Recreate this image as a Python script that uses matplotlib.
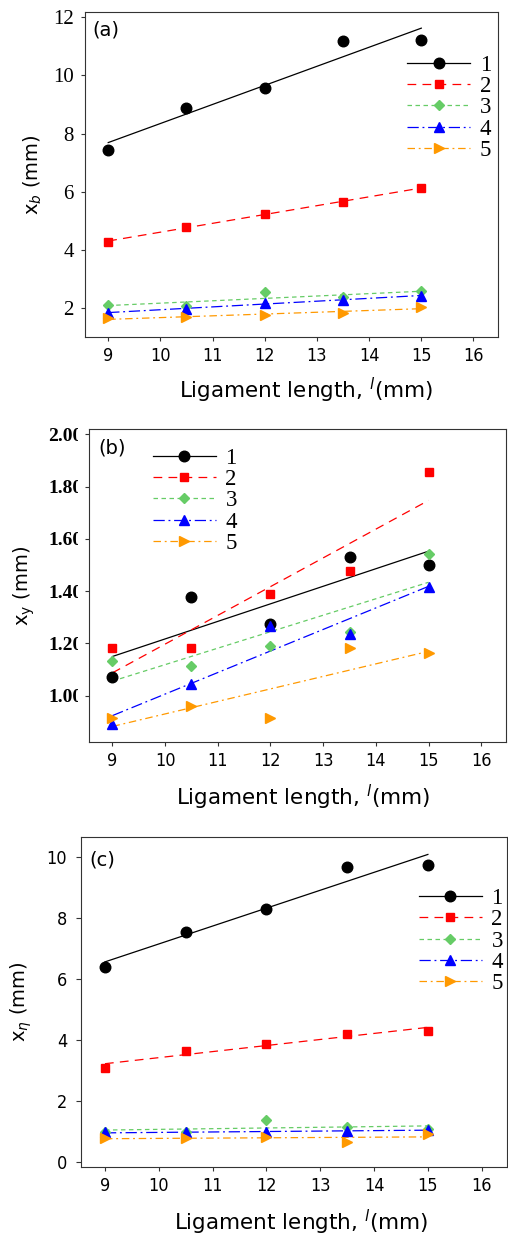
import numpy as np
import matplotlib
matplotlib.use('Agg')
import matplotlib.pyplot as plt
from matplotlib.lines import Line2D
from matplotlib.patches import Rectangle

plt.rcParams['mathtext.fontset'] = 'dejavusans'
plt.rcParams['font.family'] = ['DejaVu Sans']

W, H, DPI = 508, 1235, 100

# ---------------- data ----------------
ligament = [9, 10.5, 12, 13.5, 15]
series_labels = ['1', '2', '3', '4', '5']

xb_1 = [7.44, 8.89, 9.56, 11.17, 11.22]
xb_2 = [4.27, 4.79, 5.24, 5.65, 6.12]
xb_3 = [2.11, 2.05, 2.55, 2.36, 2.57]
xb_4 = [1.83, 1.98, 2.17, 2.27, 2.42]
xb_5 = [1.64, 1.69, 1.76, 1.83, 2.03]

xy_1 = [1.073, 1.379, 1.273, 1.532, 1.500]
xy_2 = [1.181, 1.181, 1.389, 1.478, 1.857]
xy_3 = [1.134, 1.114, 1.190, 1.245, 1.541]
xy_4 = [0.892, 1.045, 1.268, 1.235, 1.415]
xy_5 = [0.913, 0.961, 0.913, 1.181, 1.162]

xn_1 = [6.39, 7.52, 8.29, 9.65, 9.73]
xn_2 = [3.08, 3.64, 3.85, 4.18, 4.30]
xn_3 = [0.98, 0.97, 1.37, 1.15, 1.06]
xn_4 = [0.96, 0.96, 0.97, 1.02, 1.04]
xn_5 = [0.77, 0.77, 0.82, 0.66, 0.90]

x_ticks = [9, 10, 11, 12, 13, 14, 15, 16]
yticks_a = [2, 4, 6, 8, 10, 12]
yticks_b = [1.0, 1.2, 1.4, 1.6, 1.8, 2.0]
ytick_labels_b = ['1.00', '1.20', '1.40', '1.60', '1.80', '2.00']
yticks_c = [0, 2, 4, 6, 8, 10]

styles = [
    dict(color='black', ls='-', marker='o', ms=7.6),
    dict(color='#ff0000', ls=(0, (7, 5)), marker='s', ms=5.9),
    dict(color='#66cc66', ls=(0, (3.6, 2.8)), marker='D', ms=5.3),
    dict(color='#0000ff', ls=(0, (9, 3, 1.5, 3)), marker='^', ms=7.2),
    dict(color='#ff9900', ls=(0, (6, 3, 1.5, 3)), marker='>', ms=7.2),
]
LW = 0.9

fig = plt.figure(figsize=(W / DPI, H / DPI), dpi=DPI)


def px_axes(left, right, top, bottom):
    return fig.add_axes([left / W, (H - bottom) / H, (right - left) / W, (bottom - top) / H])


ax_a = px_axes(85, 498, 12, 337)
ax_b = px_axes(89, 506, 429.3, 741.7)
ax_c = px_axes(81, 507, 837.3, 1166.7)


def draw_panel(ax, data):
    x = np.array(ligament)
    for st, y in zip(styles, data):
        coef = np.polyfit(x, np.array(y), 1)
        ax.plot(x, np.polyval(coef, x), color=st['color'], ls=st['ls'], lw=LW, zorder=2)
    for st, y in zip(styles, data):
        ax.plot(x, y, ls='none', marker=st['marker'], ms=st['ms'], color=st['color'],
                mec=st['color'], zorder=3)


def legend(ax, anchor, fs=16.5):
    handles = [Line2D([], [], color=st['color'], ls=st['ls'], lw=LW, marker=st['marker'],
                      ms=st['ms']) for st in styles]
    leg = ax.legend(handles, series_labels, loc='upper left', bbox_to_anchor=anchor,
                    frameon=False, borderpad=0, borderaxespad=0, handlelength=2.75,
                    handletextpad=0.42, labelspacing=0.01, numpoints=1,
                    prop=dict(family='Liberation Serif', size=fs))
    return leg


def style_axes(ax):
    for sp in ax.spines.values():
        sp.set_color('#333333')
        sp.set_linewidth(0.8)
    ax.set_xlim(8.555, 16.47)
    ax.set_xticks(x_ticks)
    ax.tick_params(axis='both', which='both', direction='out', length=3.2, width=0.8,
                   color='#333333', top=False, right=False)
    ax.tick_params(axis='x', labelsize=13, pad=4)
    for lbl in ax.get_xticklabels():
        lbl.set_fontfamily('DejaVu Sans')
        lbl.set_fontstretch('condensed')


# ---- panel (a)
draw_panel(ax_a, [xb_1, xb_2, xb_3, xb_4, xb_5])
style_axes(ax_a)
ax_a.set_ylim(1.0, 12.18)
ax_a.set_yticks(yticks_a)
ax_a.tick_params(axis='y', labelsize=15, pad=4.8)
for lbl in ax_a.get_yticklabels():
    lbl.set_fontfamily('Liberation Serif')
ax_a.set_ylabel(r'x$_{b}$ (mm)', fontsize=14)
ax_a.yaxis.set_label_coords(-0.099, 0.5)
ax_a.set_xlabel(r'Ligament length, $^{l}$(mm)', fontsize=15.5)
ax_a.xaxis.set_label_coords(0.536, -0.118)
ax_a.text(0.017, 0.975, '(a)', transform=ax_a.transAxes, ha='left', va='top', fontsize=14)
legend(ax_a, (0.78, 0.868))

# ---- panel (b)
draw_panel(ax_b, [xy_1, xy_2, xy_3, xy_4, xy_5])
style_axes(ax_b)
ax_b.set_ylim(0.824, 2.019)
ax_b.set_yticks(yticks_b)
ax_b.set_yticklabels(ytick_labels_b)
ax_b.tick_params(axis='y', labelsize=14, pad=1.4)
for lbl in ax_b.get_yticklabels():
    lbl.set_fontfamily('Liberation Serif')
    lbl.set_fontweight('bold')
ax_b.set_ylabel(r'x$_{\mathrm{y}}$ (mm)', fontsize=14)
ax_b.yaxis.set_label_coords(-0.125, 0.5)
ax_b.set_xlabel(r'Ligament length, $^{l}$(mm)', fontsize=15.5)
ax_b.xaxis.set_label_coords(0.512, -0.132)
ax_b.text(0.0216, 0.972, '(b)', transform=ax_b.transAxes, ha='left', va='top', fontsize=14)
legend(ax_b, (0.153, 0.941))

# the bold tick labels of panel (b) are cut off on their right side in the original
fig.add_artist(Rectangle((77.5 / W, (H - 750) / H), 7.0 / W, 330 / H, transform=fig.transFigure,
                         facecolor='white', edgecolor='none', zorder=10))

# ---- panel (c)
draw_panel(ax_c, [xn_1, xn_2, xn_3, xn_4, xn_5])
style_axes(ax_c)
ax_c.set_ylim(-0.164, 10.64)
ax_c.set_yticks(yticks_c)
ax_c.tick_params(axis='y', labelsize=13, pad=6.5, length=3.6)
for lbl in ax_c.get_yticklabels():
    lbl.set_fontfamily('DejaVu Sans')
    lbl.set_fontstretch('condensed')
ax_c.set_ylabel(r'x$_{\eta}$ (mm)', fontsize=14)
ax_c.yaxis.set_label_coords(-0.110, 0.5)
ax_c.set_xlabel(r'Ligament length, $^{l}$(mm)', fontsize=15.5)
ax_c.xaxis.set_label_coords(0.516, -0.125)
ax_c.text(0.019, 0.961, '(c)', transform=ax_c.transAxes, ha='left', va='top', fontsize=14)
legend(ax_c, (0.793, 0.846))

fig.savefig('out.png', dpi=DPI)
